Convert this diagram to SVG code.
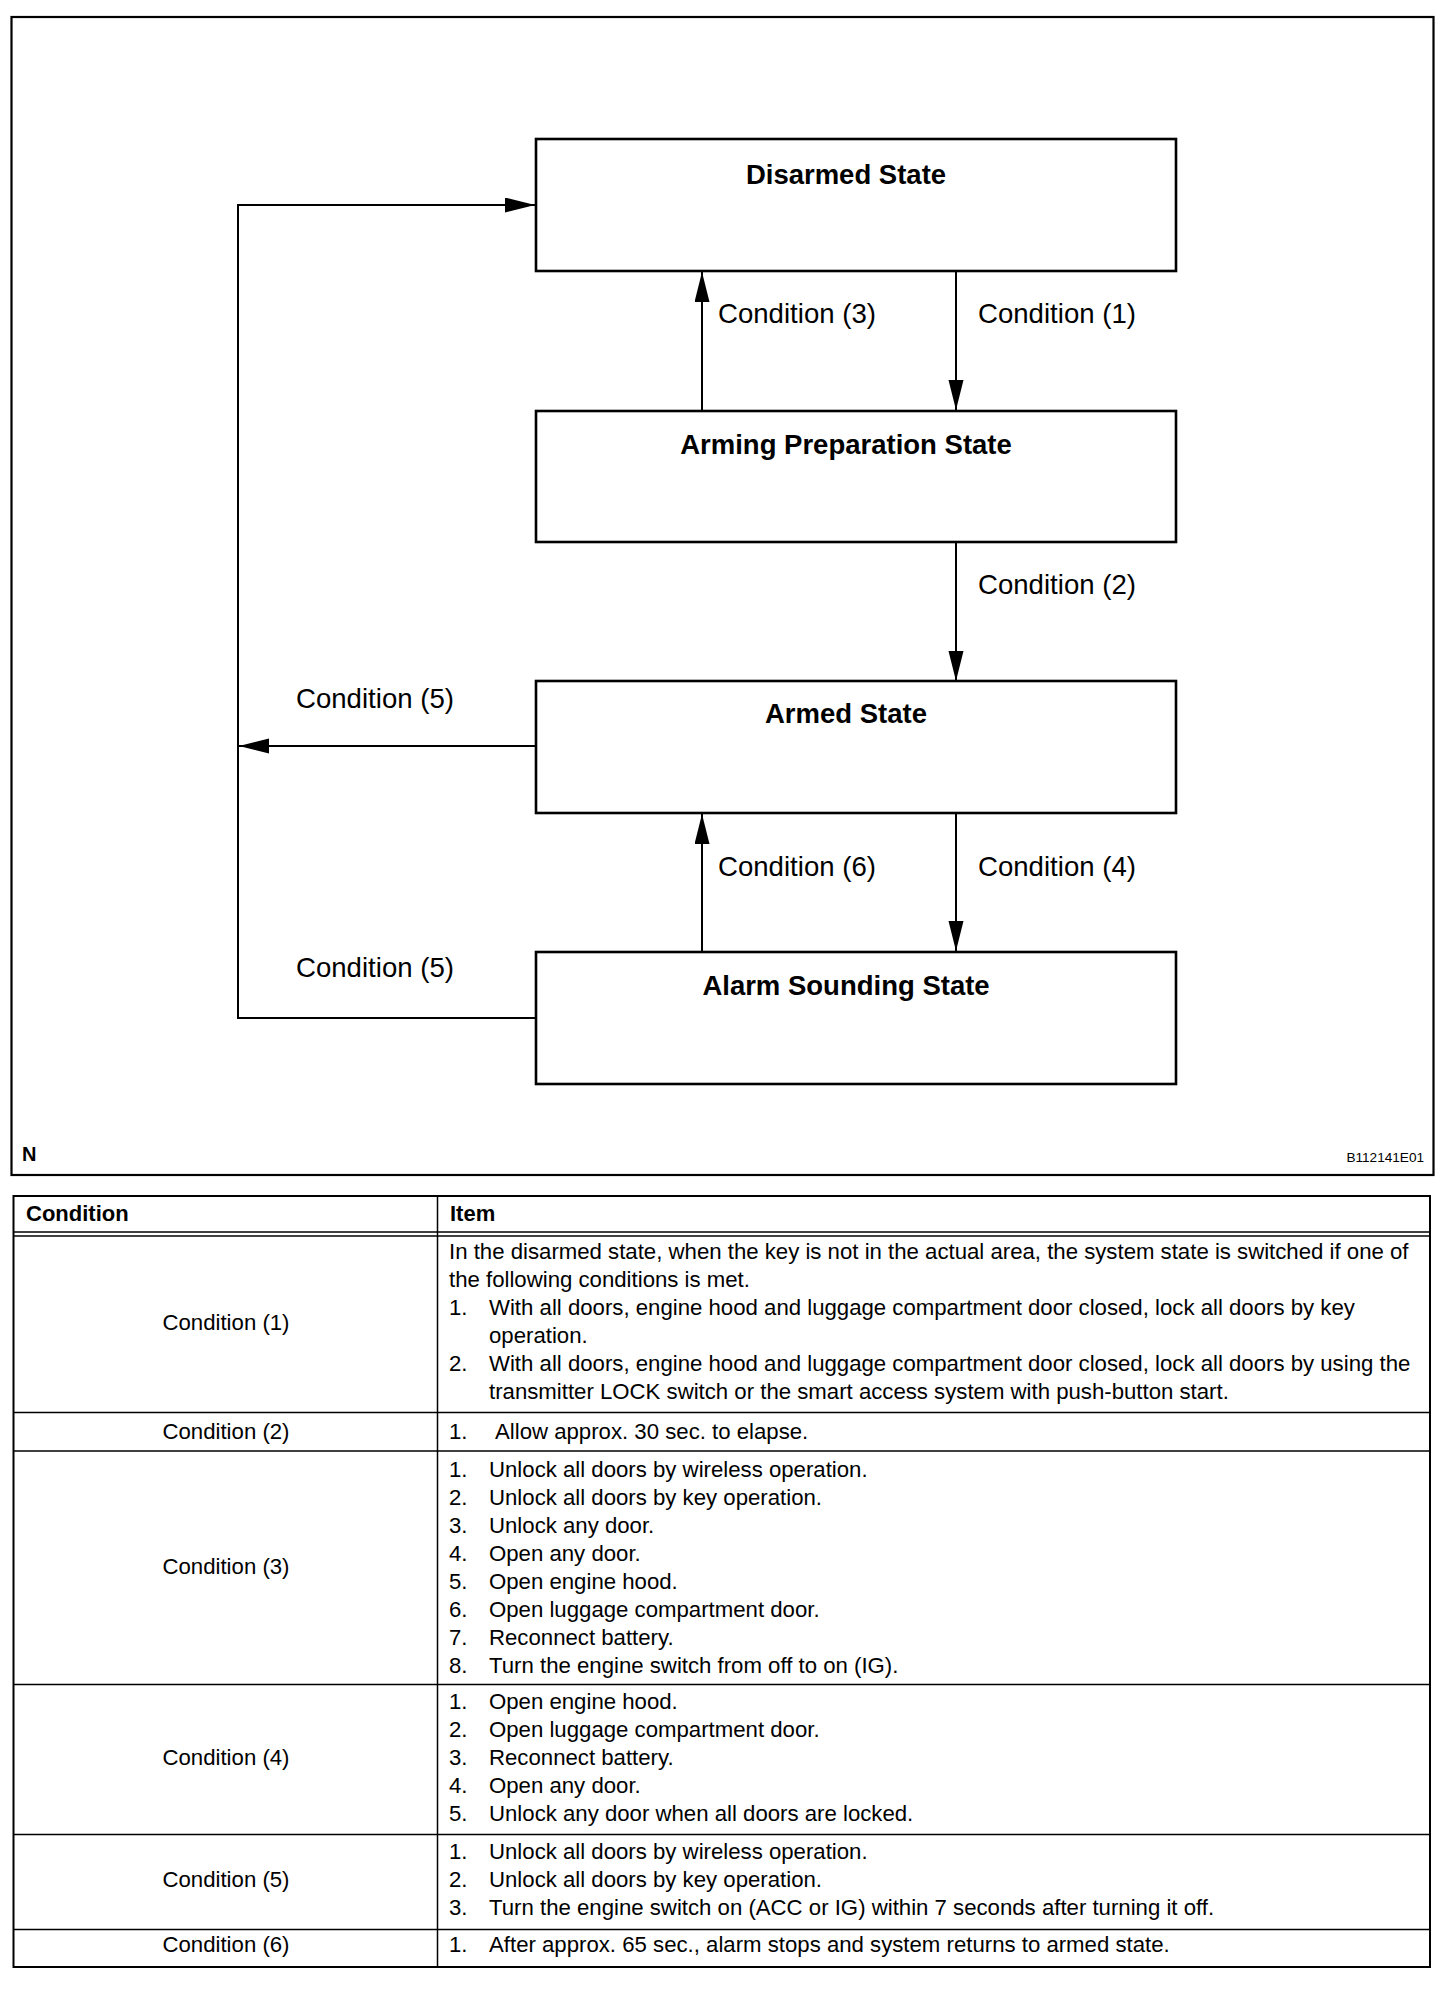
<svg xmlns="http://www.w3.org/2000/svg" width="1456" height="2010" viewBox="0 0 1456 2010">
<style>
.box{fill:#fff;stroke:#000;stroke-width:2.6}
.ln{fill:none;stroke:#000;stroke-width:2}
.ttl{font-family:"Liberation Sans",Arial,sans-serif;font-size:27.5px;font-weight:bold;text-anchor:middle}
.lbl{font-family:"Liberation Sans",Arial,sans-serif;font-size:27.6px}
.t{font-family:"Liberation Sans",Arial,sans-serif;font-size:22.2px}
.tc{font-family:"Liberation Sans",Arial,sans-serif;font-size:22.2px;text-anchor:middle}
.th{font-family:"Liberation Sans",Arial,sans-serif;font-size:22px;font-weight:bold}
.tl{fill:none;stroke:#000;stroke-width:1.5}
</style>
<defs>
<marker id="ah" markerUnits="userSpaceOnUse" markerWidth="32" markerHeight="16" refX="30" refY="7.5" orient="auto">
<path d="M0,0 L30,7.5 L0,15 Z" fill="#000"/>
</marker>
</defs>
<rect width="1456" height="2010" fill="#fff"/>
<rect x="11.5" y="17" width="1422" height="1158" fill="none" stroke="#000" stroke-width="2.2"/>

<g id="connectors">
<line class="ln" x1="702" y1="411" x2="702" y2="272" marker-end="url(#ah)"/>
<line class="ln" x1="956" y1="271" x2="956" y2="410" marker-end="url(#ah)"/>
<line class="ln" x1="956" y1="542" x2="956" y2="681" marker-end="url(#ah)"/>
<line class="ln" x1="702" y1="952" x2="702" y2="814" marker-end="url(#ah)"/>
<line class="ln" x1="956" y1="813" x2="956" y2="951" marker-end="url(#ah)"/>
<polyline class="ln" points="536,1018 238,1018 238,205 535,205" marker-end="url(#ah)"/>
<line class="ln" x1="536" y1="746" x2="239" y2="746" marker-end="url(#ah)"/>
<text class="lbl" x="718" y="323">Condition (3)</text>
<text class="lbl" x="978" y="323">Condition (1)</text>
<text class="lbl" x="978" y="594">Condition (2)</text>
<text class="lbl" x="296" y="708">Condition (5)</text>
<text class="lbl" x="718" y="876">Condition (6)</text>
<text class="lbl" x="978" y="876">Condition (4)</text>
<text class="lbl" x="296" y="977">Condition (5)</text>
</g>

<g id="disarmed">
<rect class="box" x="536" y="139" width="640" height="132"/>
<text class="ttl" x="846" y="184">Disarmed State</text>
</g>
<g id="arming-preparation">
<rect class="box" x="536" y="411" width="640" height="131"/>
<text class="ttl" x="846" y="454">Arming Preparation State</text>
</g>
<g id="armed">
<rect class="box" x="536" y="681" width="640" height="132"/>
<text class="ttl" x="846" y="723">Armed State</text>
</g>
<g id="alarm-sounding">
<rect class="box" x="536" y="952" width="640" height="132"/>
<text class="ttl" x="846" y="995">Alarm Sounding State</text>
</g>

<text x="22" y="1161" font-family="Liberation Sans, Arial, sans-serif" font-size="20" font-weight="bold">N</text>
<text x="1424" y="1162" font-family="Liberation Sans, Arial, sans-serif" font-size="13.6" text-anchor="end">B112141E01</text>

<g id="table">
<rect x="13.5" y="1196" width="1416.5" height="771" fill="none" stroke="#000" stroke-width="2"/>
<line class="tl" x1="437.5" y1="1196" x2="437.5" y2="1967"/>
<line class="tl" x1="13.5" y1="1232" x2="1430" y2="1232"/>
<line class="tl" x1="13.5" y1="1236" x2="1430" y2="1236"/>
<line class="tl" x1="13.5" y1="1412.5" x2="1430" y2="1412.5"/>
<line class="tl" x1="13.5" y1="1451" x2="1430" y2="1451"/>
<line class="tl" x1="13.5" y1="1684.5" x2="1430" y2="1684.5"/>
<line class="tl" x1="13.5" y1="1834.5" x2="1430" y2="1834.5"/>
<line class="tl" x1="13.5" y1="1929.5" x2="1430" y2="1929.5"/>

<text class="th" x="26" y="1221">Condition</text>
<text class="th" x="450" y="1221">Item</text>

<text class="tc" x="226" y="1330">Condition (1)</text>
<text class="t" x="449" y="1259">In the disarmed state, when the key is not in the actual area, the system state is switched if one of</text>
<text class="t" x="449" y="1287">the following conditions is met.</text>
<text class="t" x="449" y="1315">1.</text>
<text class="t" x="489" y="1315">With all doors, engine hood and luggage compartment door closed, lock all doors by key</text>
<text class="t" x="489" y="1343">operation.</text>
<text class="t" x="449" y="1371">2.</text>
<text class="t" x="489" y="1371">With all doors, engine hood and luggage compartment door closed, lock all doors by using the</text>
<text class="t" x="489" y="1399">transmitter LOCK switch or the smart access system with push-button start.</text>

<text class="tc" x="226" y="1439">Condition (2)</text>
<text class="t" x="449" y="1439">1.</text>
<text class="t" x="495" y="1439">Allow approx. 30 sec. to elapse.</text>

<text class="tc" x="226" y="1574">Condition (3)</text>
<text class="t" x="449" y="1477">1.</text><text class="t" x="489" y="1477">Unlock all doors by wireless operation.</text>
<text class="t" x="449" y="1505">2.</text><text class="t" x="489" y="1505">Unlock all doors by key operation.</text>
<text class="t" x="449" y="1533">3.</text><text class="t" x="489" y="1533">Unlock any door.</text>
<text class="t" x="449" y="1561">4.</text><text class="t" x="489" y="1561">Open any door.</text>
<text class="t" x="449" y="1589">5.</text><text class="t" x="489" y="1589">Open engine hood.</text>
<text class="t" x="449" y="1617">6.</text><text class="t" x="489" y="1617">Open luggage compartment door.</text>
<text class="t" x="449" y="1645">7.</text><text class="t" x="489" y="1645">Reconnect battery.</text>
<text class="t" x="449" y="1673">8.</text><text class="t" x="489" y="1673">Turn the engine switch from off to on (IG).</text>

<text class="tc" x="226" y="1765">Condition (4)</text>
<text class="t" x="449" y="1709">1.</text><text class="t" x="489" y="1709">Open engine hood.</text>
<text class="t" x="449" y="1737">2.</text><text class="t" x="489" y="1737">Open luggage compartment door.</text>
<text class="t" x="449" y="1765">3.</text><text class="t" x="489" y="1765">Reconnect battery.</text>
<text class="t" x="449" y="1793">4.</text><text class="t" x="489" y="1793">Open any door.</text>
<text class="t" x="449" y="1821">5.</text><text class="t" x="489" y="1821">Unlock any door when all doors are locked.</text>

<text class="tc" x="226" y="1887">Condition (5)</text>
<text class="t" x="449" y="1859">1.</text><text class="t" x="489" y="1859">Unlock all doors by wireless operation.</text>
<text class="t" x="449" y="1887">2.</text><text class="t" x="489" y="1887">Unlock all doors by key operation.</text>
<text class="t" x="449" y="1915">3.</text><text class="t" x="489" y="1915">Turn the engine switch on (ACC or IG) within 7 seconds after turning it off.</text>

<text class="tc" x="226" y="1952">Condition (6)</text>
<text class="t" x="449" y="1952">1.</text><text class="t" x="489" y="1952">After approx. 65 sec., alarm stops and system returns to armed state.</text>
</g>
</svg>
